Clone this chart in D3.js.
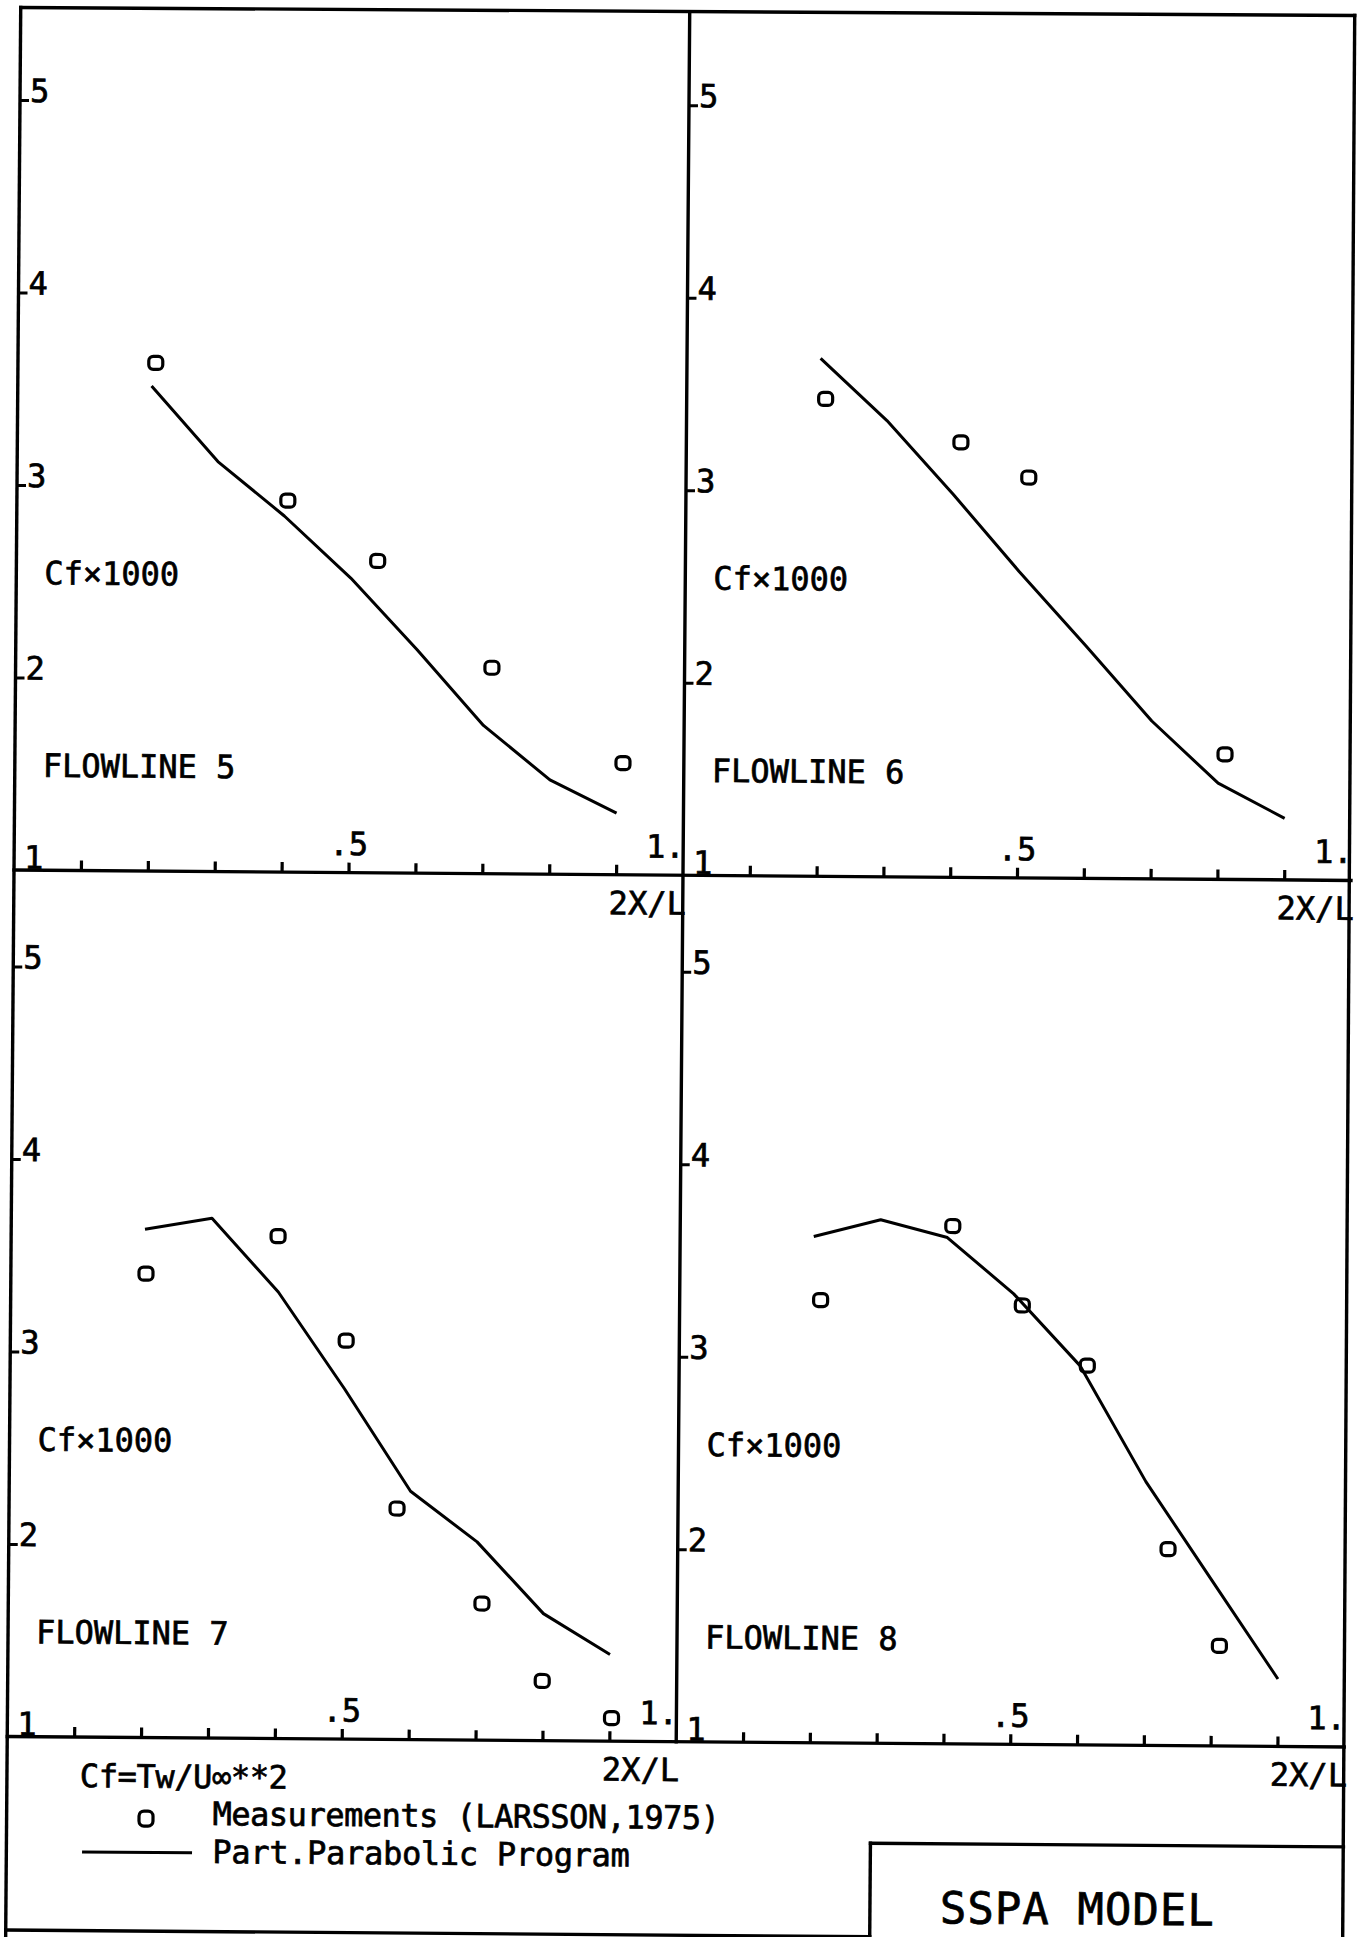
<!DOCTYPE html>
<html><head><meta charset="utf-8">
<script src="https://cdn.jsdelivr.net/npm/d3@7"></script>
<style>
html,body{margin:0;padding:0;background:#fff;}
svg{display:block;}
text{font-family:"DejaVu Sans Mono",monospace;fill:#000;stroke:#000;stroke-width:0.7px;}
</style>
</head><body>
<svg id="chart" width="1358" height="1937"></svg>
<script>
// ---------------- data ----------------
const flowlines = ["FLOWLINE 5", "FLOWLINE 6", "FLOWLINE 7", "FLOWLINE 8"];
const yTitle = "Cf×1000";
const xTitle = "2X/L";
const xTickValues = [0.1, 0.2, 0.3, 0.4, 0.5, 0.6, 0.7, 0.8, 0.9];
const xTickLabelValues = [0.5, 1.0];
const xTickLabels = [".5", "1."];
const yTickValues = [2, 3, 4, 5];
const yTickLabelValues = [1, 2, 3, 4, 5];
const yTickLabels = ["1", "2", "3", "4", "5"];

// Part.Parabolic Program (line), stations along 2X/L
const stations = [0.2, 0.3, 0.4, 0.5, 0.6, 0.7, 0.8, 0.9];
const program5 = [3.52, 3.13, 2.85, 2.53, 2.16, 1.77, 1.49, 1.32];
const program6 = [3.69, 3.37, 2.99, 2.59, 2.21, 1.82, 1.50, 1.32];
const program7 = [3.64, 3.70, 3.32, 2.82, 2.29, 2.03, 1.66, 1.45];
const program8 = [3.63, 3.72, 3.63, 3.34, 2.97, 2.37, 1.86, 1.35];

// Measurements (LARSSON, 1975)
const meas5X = [0.206, 0.405, 0.540, 0.712, 0.909];
const meas5Cf = [3.64, 2.93, 2.62, 2.07, 1.58];
const meas6X = [0.208, 0.411, 0.513, 0.810];
const meas6Cf = [3.48, 3.26, 3.08, 1.65];
const meas7X = [0.202, 0.399, 0.502, 0.580, 0.708, 0.799, 0.903];
const meas7Cf = [3.41, 3.61, 3.07, 2.20, 1.71, 1.31, 1.12];
const meas8X = [0.211, 0.408, 0.513, 0.611, 0.734, 0.812];
const meas8Cf = [3.30, 3.69, 3.28, 2.97, 2.02, 1.52];

const legendFormula = "Cf=Tw/U∞**2";
const legendMeas = "Measurements (LARSSON,1975)";
const legendProg = "Part.Parabolic Program";
const modelName = "SSPA MODEL";

// ---------------- layout ----------------
const ROT = 0.447, RCX = 13, RCY = 870;
const L0 = 14, MID = 683, R1 = 1351;
const TOP = 7.5, AX1 = 870, AX2 = 1736.5, BOTTOM = 1930;
const UNIT = 192.5;
const FRAME_W = 3.4, CURVE_W = 3;

const svg = d3.select("#chart");
svg.append("rect").attr("width", 1358).attr("height", 1937).attr("fill", "#fff");
const g = svg.append("g").attr("transform", `rotate(${ROT},${RCX},${RCY})`);

// frame
const frameSegs = [
  [L0, TOP, 1348, 5],
  [L0, TOP, L0, 1950],
  [1348, 5, R1, 1950],
  [MID, TOP, MID, AX2],
  [L0, AX1, R1, AX1],
  [L0, AX2, R1, AX2],
  [L0, BOTTOM, 878, BOTTOM],
  [878, 1836.5, R1, 1836.5],
  [878, 1836.5, 878, 1950]
];
g.selectAll("line.frame").data(frameSegs).join("line")
  .attr("class", "frame")
  .attr("x1", d => d[0]).attr("y1", d => d[1])
  .attr("x2", d => d[2]).attr("y2", d => d[3])
  .attr("stroke", "#000").attr("stroke-width", FRAME_W).attr("stroke-linecap", "square");

const panels = [
  {name: flowlines[0], x0: L0, x1: MID, axis: AX1, prog: program5, mx: meas5X, my: meas5Cf},
  {name: flowlines[1], x0: MID, x1: R1, axis: AX1, prog: program6, mx: meas6X, my: meas6Cf},
  {name: flowlines[2], x0: L0, x1: MID, axis: AX2, prog: program7, mx: meas7X, my: meas7Cf},
  {name: flowlines[3], x0: MID, x1: R1, axis: AX2, prog: program8, mx: meas8X, my: meas8Cf}
];

panels.forEach(p => {
  const x = d3.scaleLinear().domain([0, 1]).range([p.x0, p.x1]);
  const y = d3.scaleLinear().domain([1, 5]).range([p.axis, p.axis - 4 * UNIT]);
  const pg = g.append("g");

  // x ticks (pointing up into the plot)
  const xa = pg.append("g").attr("transform", `translate(0,${p.axis})`)
    .call(d3.axisTop(x).tickValues(xTickValues).tickSize(10).tickFormat(""));
  xa.select(".domain").remove();
  xa.selectAll(".tick line").attr("stroke", "#000").attr("stroke-width", 3.2);

  // y ticks (pointing right)
  const ya = pg.append("g").attr("transform", `translate(${p.x0},0)`)
    .call(d3.axisRight(y).tickValues(yTickValues).tickSize(9).tickFormat(""));
  ya.select(".domain").remove();
  ya.selectAll(".tick line").attr("stroke", "#000").attr("stroke-width", 3);

  // y tick labels
  pg.selectAll("text.ylab").data(yTickLabelValues).join("text")
    .attr("class", "ylab")
    .attr("x", p.x0 + 10)
    .attr("y", v => v === 1 ? y(v) - 1.5 : y(v) + 2)
    .attr("font-size", 32)
    .text((v, i) => yTickLabels[i]);

  // x tick labels
  pg.selectAll("text.xlab").data(xTickLabelValues).join("text")
    .attr("class", "xlab")
    .attr("x", v => v === 1 ? x(v) + 1.5 : x(v))
    .attr("y", p.axis - 17.5)
    .attr("text-anchor", v => v === 1 ? "end" : "middle")
    .attr("font-size", 32)
    .text((v, i) => xTickLabels[i]);

  // axis title
  pg.append("text").attr("x", x(1) + 3).attr("y", p.axis + 39.5)
    .attr("text-anchor", "end").attr("font-size", 32).text(xTitle);

  // panel texts
  pg.append("text").attr("x", p.x0 + 28).attr("y", p.axis - 286)
    .attr("font-size", 32).text(yTitle);
  pg.append("text").attr("x", p.x0 + 28).attr("y", p.axis - 93.5)
    .attr("font-size", 32).text(p.name);

  // program line
  const line = d3.line().x(d => x(d[0])).y(d => y(d[1]));
  pg.append("path").datum(d3.zip(stations, p.prog))
    .attr("d", line).attr("fill", "none").attr("stroke", "#000")
    .attr("stroke-width", CURVE_W).attr("stroke-linejoin", "round");

  // measurements
  pg.selectAll("rect.meas").data(d3.zip(p.mx, p.my)).join("rect")
    .attr("class", "meas")
    .attr("x", d => x(d[0]) - 7).attr("y", d => y(d[1]) - 6.5)
    .attr("width", 14).attr("height", 13).attr("rx", 4.5)
    .attr("fill", "none").attr("stroke", "#000").attr("stroke-width", 3.2);
});

// legend
const lg = g.append("g");
lg.append("text").attr("x", 87).attr("y", 1786.5).attr("font-size", 32)
  .attr("letter-spacing", -0.4).text(legendFormula);
lg.append("rect").attr("x", 153.4 - 7).attr("y", 1817.5 - 7.5).attr("width", 14).attr("height", 15).attr("rx", 5)
  .attr("fill", "none").attr("stroke", "#000").attr("stroke-width", 3.2);
lg.append("text").attr("x", 220).attr("y", 1823.5).attr("font-size", 32)
  .attr("letter-spacing", -0.5).text(legendMeas);
lg.append("line").attr("x1", 89.7).attr("x2", 199.7).attr("y1", 1851.4).attr("y2", 1851.4)
  .attr("stroke", "#000").attr("stroke-width", CURVE_W);
lg.append("text").attr("x", 220).attr("y", 1861.5).attr("font-size", 32)
  .attr("letter-spacing", -0.3).text(legendProg);
lg.append("text").attr("x", 948).attr("y", 1916).attr("font-size", 44)
  .attr("letter-spacing", 1).text(modelName);
</script>
</body></html>
